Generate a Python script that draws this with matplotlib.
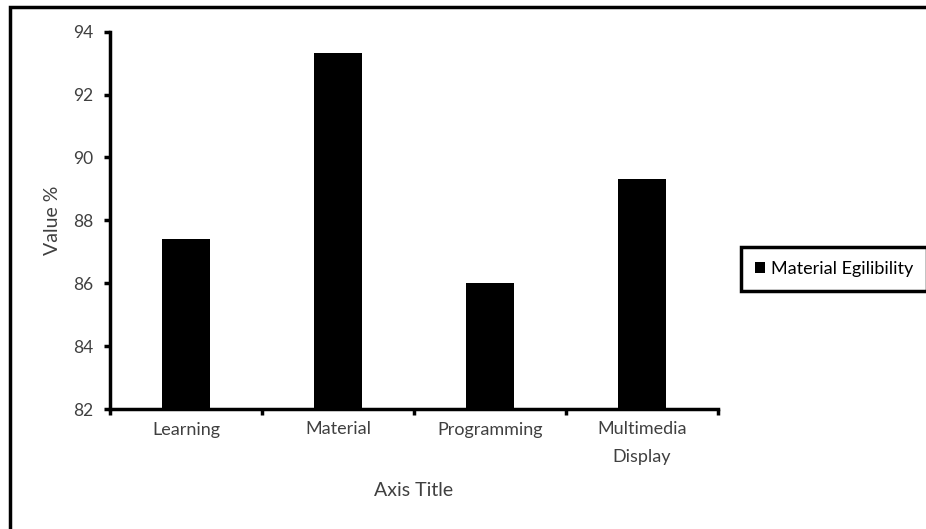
import numpy as np
import matplotlib.pyplot as plt
from matplotlib.patches import Rectangle

plt.rcParams['font.family'] = ['Lato', 'DejaVu Sans']

# data
categories = ['Learning', 'Material', 'Programming', 'Multimedia\nDisplay']
values = [87.4, 93.33, 86.0, 89.33]
series_name = 'Material Egilibility'
y_ticks = [82, 84, 86, 88, 90, 92, 94]

text_col = '#404040'

fig = plt.figure(figsize=(9.26, 5.29), dpi=100)
ax = fig.add_axes([110/926, 1 - 409/529, 608/926, (409 - 31.7)/529])

x = np.arange(len(categories))
ax.bar(x, values, width=0.32, color='black', label=series_name)

ax.set_xlim(-0.5, len(categories) - 0.5)
ax.set_ylim(82, 94)
ax.set_yticks(y_ticks)

# category labels in the middle, ticks on the boundaries
ax.set_xticks(x)
ax.set_xticklabels(categories, color=text_col, fontsize=13, linespacing=1.9)
ax.tick_params(axis='x', which='major', length=0, pad=9)
ax.set_xticks(np.arange(-0.5, len(categories)), minor=True)
ax.tick_params(axis='x', which='minor', length=4, width=2.5, direction='out')
ax.tick_params(axis='y', length=4, width=2.5, direction='out',
               labelcolor=text_col, labelsize=12.5, pad=8)

for side in ['top', 'right']:
    ax.spines[side].set_visible(False)
for side in ['left', 'bottom']:
    ax.spines[side].set_linewidth(2.5)

ax.set_xlabel('Axis Title', color=text_col, fontsize=14, va='center')
ax.set_ylabel('Value %', color=text_col, fontsize=14, va='center')
ax.xaxis.set_label_coords(0.5, (409 - 491) / 377.3)
ax.yaxis.set_label_coords((53 - 110) / 608, 0.5)

leg = fig.legend(loc='center left', bbox_to_anchor=(741/926, 1 - 269/529),
                 fontsize=13, fancybox=False, framealpha=1,
                 edgecolor='black', handlelength=0.6, handleheight=0.6,
                 handletextpad=0.3, borderpad=0.75, borderaxespad=0)
leg.get_frame().set_linewidth(2.5)
for t in leg.get_texts():
    t.set_color('black')

# outer chart border (right and bottom edges run off the image)
fig.patches.append(Rectangle((10/926, -0.05), 1.0, 1 - 7/529 + 0.05,
                             transform=fig.transFigure, fill=False,
                             edgecolor='black', linewidth=2.5))

fig.savefig('out.png', dpi=100)
